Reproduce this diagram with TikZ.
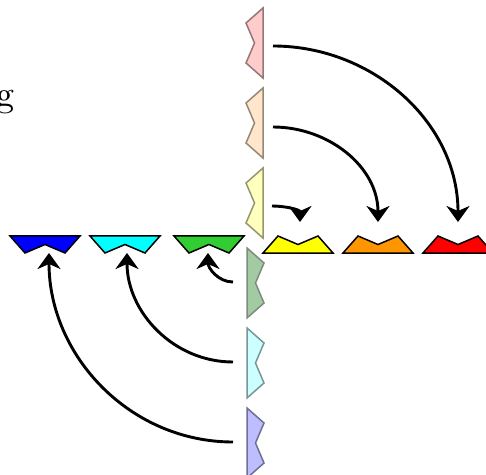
\documentclass[tikz,border=0pt]{standalone}
\usetikzlibrary{arrows.meta}
\definecolor{cblue}{RGB}{0,0,255}
\definecolor{ccyan}{RGB}{0,255,255}
\definecolor{cgreen}{RGB}{50,205,50}
\definecolor{cyellow}{RGB}{255,255,0}
\definecolor{corange}{RGB}{255,150,0}
\definecolor{cred}{RGB}{255,0,0}
\definecolor{ppink}{RGB}{255,204,204}
\definecolor{ppinkd}{RGB}{150,118,118}
\definecolor{ppeach}{RGB}{255,230,204}
\definecolor{ppeachd}{RGB}{150,135,118}
\definecolor{pyellow}{RGB}{255,255,190}
\definecolor{pyellowd}{RGB}{150,150,110}
\definecolor{pgreen}{RGB}{163,203,163}
\definecolor{pgreend}{RGB}{125,140,125}
\definecolor{pcyan}{RGB}{204,255,255}
\definecolor{pcyand}{RGB}{120,150,150}
\definecolor{plav}{RGB}{190,190,255}
\definecolor{plavd}{RGB}{110,110,150}
\newcommand\drawpiece[3]{\draw[#1, shift={#2}, rotate=#3] (0,0)--(70,0)--(55,-17)--(35,-8.5)--(15,-17)--cycle;}
\begin{document}
\begin{tikzpicture}[x=1pt,y=1pt,
  solidpiece/.style={draw=black, line width=1.5pt, line join=miter},
  palepiece/.style={line width=1.5pt, line join=miter},
  arr/.style={-{Stealth[length=16pt,width=23pt,inset=5pt]}, line width=2.9pt}]
\useasboundingbox (0,0) rectangle (486,474);
% text fragment
\node[anchor=base east, inner sep=0pt, font=\fontsize{10}{12}\selectfont, scale=3.6] (frag) at (15,367) {g};
% left row
\drawpiece{solidpiece, fill=cblue}{(10,238)}{0}
\drawpiece{solidpiece, fill=ccyan}{(90,238)}{0}
\drawpiece{solidpiece, fill=cgreen}{(174,238)}{0}
% right row
\drawpiece{solidpiece, fill=cyellow}{(333,221)}{180}
\drawpiece{solidpiece, fill=corange}{(413,221)}{180}
\drawpiece{solidpiece, fill=cred}{(493,221)}{180}
% top column
\drawpiece{palepiece, fill=ppink, draw=ppinkd}{(263,466)}{-90}
\drawpiece{palepiece, fill=ppeach, draw=ppeachd}{(263,386)}{-90}
\drawpiece{palepiece, fill=pyellow, draw=pyellowd}{(263,306)}{-90}
% bottom column
\drawpiece{palepiece, fill=pgreen, draw=pgreend}{(247,156)}{90}
\drawpiece{palepiece, fill=pcyan, draw=pcyand}{(247,76)}{90}
\drawpiece{palepiece, fill=plav, draw=plavd}{(247,-4)}{90}
% arrow ends
\coordinate (s1) at (273,428); \coordinate (t1) at (458,252);
\coordinate (s2) at (273,347); \coordinate (t2) at (378,252);
\coordinate (s3) at (272,268); \coordinate (t3) at (300,252);
\coordinate (s4) at (233,192); \coordinate (t4) at (208,221);
\coordinate (s5) at (233,112); \coordinate (t5) at (127,221);
\coordinate (s6) at (233,32);  \coordinate (t6) at (49,221);
\draw[arr] (s1) to[out=0,in=90] (t1);
\draw[arr] (s2) to[out=0,in=90] (t2);
\draw[arr] (s3) to[out=0,in=90] (t3);
\draw[arr] (s4) to[out=180,in=-90] (t4);
\draw[arr] (s5) to[out=180,in=-90] (t5);
\draw[arr] (s6) to[out=180,in=-90] (t6);
\end{tikzpicture}
\end{document}
